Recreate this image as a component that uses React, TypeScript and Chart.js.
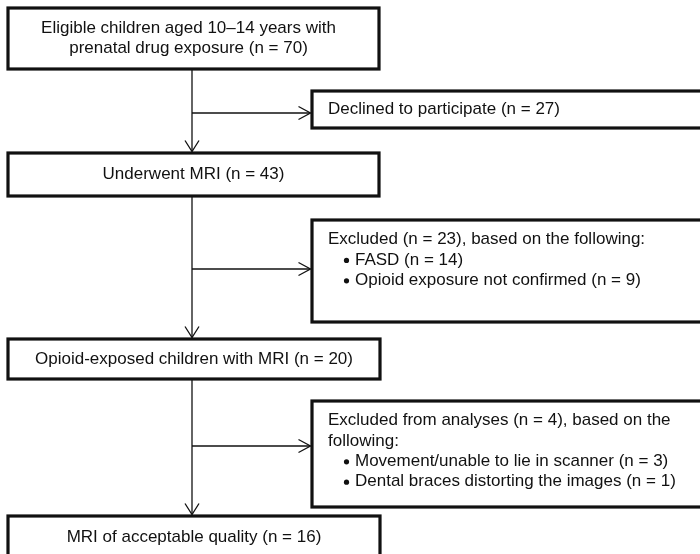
import React, { useEffect, useRef } from "react";
import { Chart, registerables } from "chart.js";

Chart.register(...registerables);

// ---- data ----
const stageLabels = [
  "Eligible children aged 10–14 years with|prenatal drug exposure",
  "Underwent MRI",
  "Opioid-exposed children with MRI",
  "MRI of acceptable quality",
];
const stageCounts = [70, 43, 20, 16];

const exclusionHeads = ["Declined to participate", "Excluded", "Excluded from analyses"];
const exclusionCounts = [27, 23, 4];
const exclusionSuffix = ["", ", based on the following:", ", based on the following:"];
const reasonLabels = [[], ["FASD", "Opioid exposure not confirmed"], ["Movement/unable to lie in scanner", "Dental braces distorting the images"]];
const reasonCounts = [[], [14, 9], [3, 1]];

// ---- layout (axis units) ----
const X_RANGE = [0, 700];
const Y_RANGE = [0, 554];
const STAGE_BOX = [
  [8, 8, 379, 69],
  [8, 153, 379, 196],
  [8, 339, 380, 379],
  [8, 516, 380, 562],
];
const SIDE_BOX = [
  [312, 91, 706, 128],
  [312, 220, 706, 322],
  [312, 401, 706, 507],
];
const SPINE_X = 192;
const BRANCH_Y = [113, 269, 446];

const FONT = "17px 'Liberation Sans', Arial, sans-serif";
const INK = "#111";

const flowPlugin = {
  id: "flow",
  afterDraw(chart: any) {
    const ctx: CanvasRenderingContext2D = chart.ctx;
    const xs = chart.scales.x;
    const ys = chart.scales.y;
    const px = (v: number) => xs.getPixelForValue(v);
    const py = (v: number) => ys.getPixelForValue(v);
    ctx.save();
    ctx.fillStyle = "#fff";
    ctx.fillRect(0, 0, chart.width, chart.height);
    ctx.font = FONT;
    ctx.textBaseline = "middle";
    ctx.lineJoin = "miter";

    const box = (b: number[]) => {
      ctx.strokeStyle = INK;
      ctx.lineWidth = 3.2;
      ctx.strokeRect(px(b[0]), py(b[1]), px(b[2]) - px(b[0]), py(b[3]) - py(b[1]));
    };
    const line = (x1: number, y1: number, x2: number, y2: number) => {
      ctx.beginPath();
      ctx.moveTo(px(x1), py(y1));
      ctx.lineTo(px(x2), py(y2));
      ctx.stroke();
    };
    const arrowDown = (x: number, y: number) => {
      ctx.beginPath();
      ctx.moveTo(px(x - 7), py(y - 11));
      ctx.lineTo(px(x), py(y));
      ctx.lineTo(px(x + 7), py(y - 11));
      ctx.stroke();
    };
    const arrowRight = (x: number, y: number) => {
      ctx.beginPath();
      ctx.moveTo(px(x - 12), py(y - 6.5));
      ctx.lineTo(px(x), py(y));
      ctx.lineTo(px(x - 12), py(y + 6.5));
      ctx.stroke();
    };

    // connectors
    ctx.strokeStyle = INK;
    ctx.lineWidth = 1.3;
    for (let i = 0; i < stageLabels.length - 1; i++) {
      const top = STAGE_BOX[i][3];
      const bottom = STAGE_BOX[i + 1][1];
      line(SPINE_X, top, SPINE_X, bottom - 1.5);
      arrowDown(SPINE_X, bottom - 1.5);
      const by = BRANCH_Y[i];
      const sx = SIDE_BOX[i][0];
      line(SPINE_X, by, sx - 1.5, by);
      arrowRight(sx - 1.5, by);
    }

    // stage boxes
    ctx.fillStyle = INK;
    ctx.textAlign = "center";
    stageLabels.forEach((lab, i) => {
      const b = STAGE_BOX[i];
      box(b);
      const parts = lab.split("|");
      parts[parts.length - 1] += ` (n = ${stageCounts[i]})`;
      const lh = 20;
      const cy = (Math.min(b[3], Y_RANGE[1] + 20) + b[1]) / 2;
      const yc = i === 3 ? 537 - (b[1] - 516) : cy;
      const start = yc - ((parts.length - 1) * lh) / 2;
      const cx = (b[0] + b[2]) / 2 - (parts.length > 1 ? 5 : 0);
      parts.forEach((t, k) => ctx.fillText(t, px(cx), py(start + k * lh)));
    });

    // side boxes
    ctx.textAlign = "left";
    exclusionHeads.forEach((h, i) => {
      const b = SIDE_BOX[i];
      box(b);
      const head = `${h} (n = ${exclusionCounts[i]})${exclusionSuffix[i]}`;
      // wrap header
      const maxW = 355;
      const words = head.split(" ");
      const lines: string[] = [];
      let cur = "";
      words.forEach((w) => {
        const test = cur ? cur + " " + w : w;
        if (ctx.measureText(test).width > maxW && cur) {
          lines.push(cur);
          cur = w;
        } else cur = test;
      });
      if (cur) lines.push(cur);
      const reasons = reasonLabels[i];
      const lh = 20.4;
      const tx = b[0] + 16;
      if (reasons.length === 0) {
        const cy = (b[1] + b[3]) / 2;
        lines.forEach((t, k) => ctx.fillText(t, px(tx), py(cy + k * lh)));
        return;
      }
      let y = b[1] + 19.5;
      lines.forEach((t) => {
        ctx.fillText(t, px(tx), py(y));
        y += lh;
      });
      reasons.forEach((r, k) => {
        ctx.beginPath();
        ctx.arc(px(tx + 18.5), py(y + 0.5), 2.6, 0, Math.PI * 2);
        ctx.fill();
        ctx.fillText(`${r} (n = ${reasonCounts[i][k]})`, px(tx + 27), py(y));
        y += lh;
      });
    });
    ctx.restore();
  },
};

export default function App() {
  const ref = useRef<HTMLCanvasElement | null>(null);
  useEffect(() => {
    document.body.style.margin = "0";
    const canvas = ref.current;
    if (!canvas) return;
    const chart = new Chart(canvas, {
      type: "scatter",
      data: {
        datasets: [
          {
            data: stageCounts.map((n, i) => ({ x: SPINE_X, y: (STAGE_BOX[i][1] + STAGE_BOX[i][3]) / 2 })),
            pointRadius: 0,
            showLine: false,
          },
        ],
      },
      options: {
        animation: false,
        responsive: false,
        layout: { padding: 0 },
        events: [],
        plugins: { legend: { display: false }, tooltip: { enabled: false } },
        scales: {
          x: { type: "linear", min: X_RANGE[0], max: X_RANGE[1], display: false },
          y: { type: "linear", min: Y_RANGE[0], max: Y_RANGE[1], reverse: true, display: false },
        },
      },
      plugins: [flowPlugin],
    } as any);
    return () => chart.destroy();
  }, []);
  return (
    <div style={{ width: 700, height: 554, overflow: "hidden" }}>
      <canvas ref={ref} width={700} height={554} style={{ display: "block" }} />
    </div>
  );
}
